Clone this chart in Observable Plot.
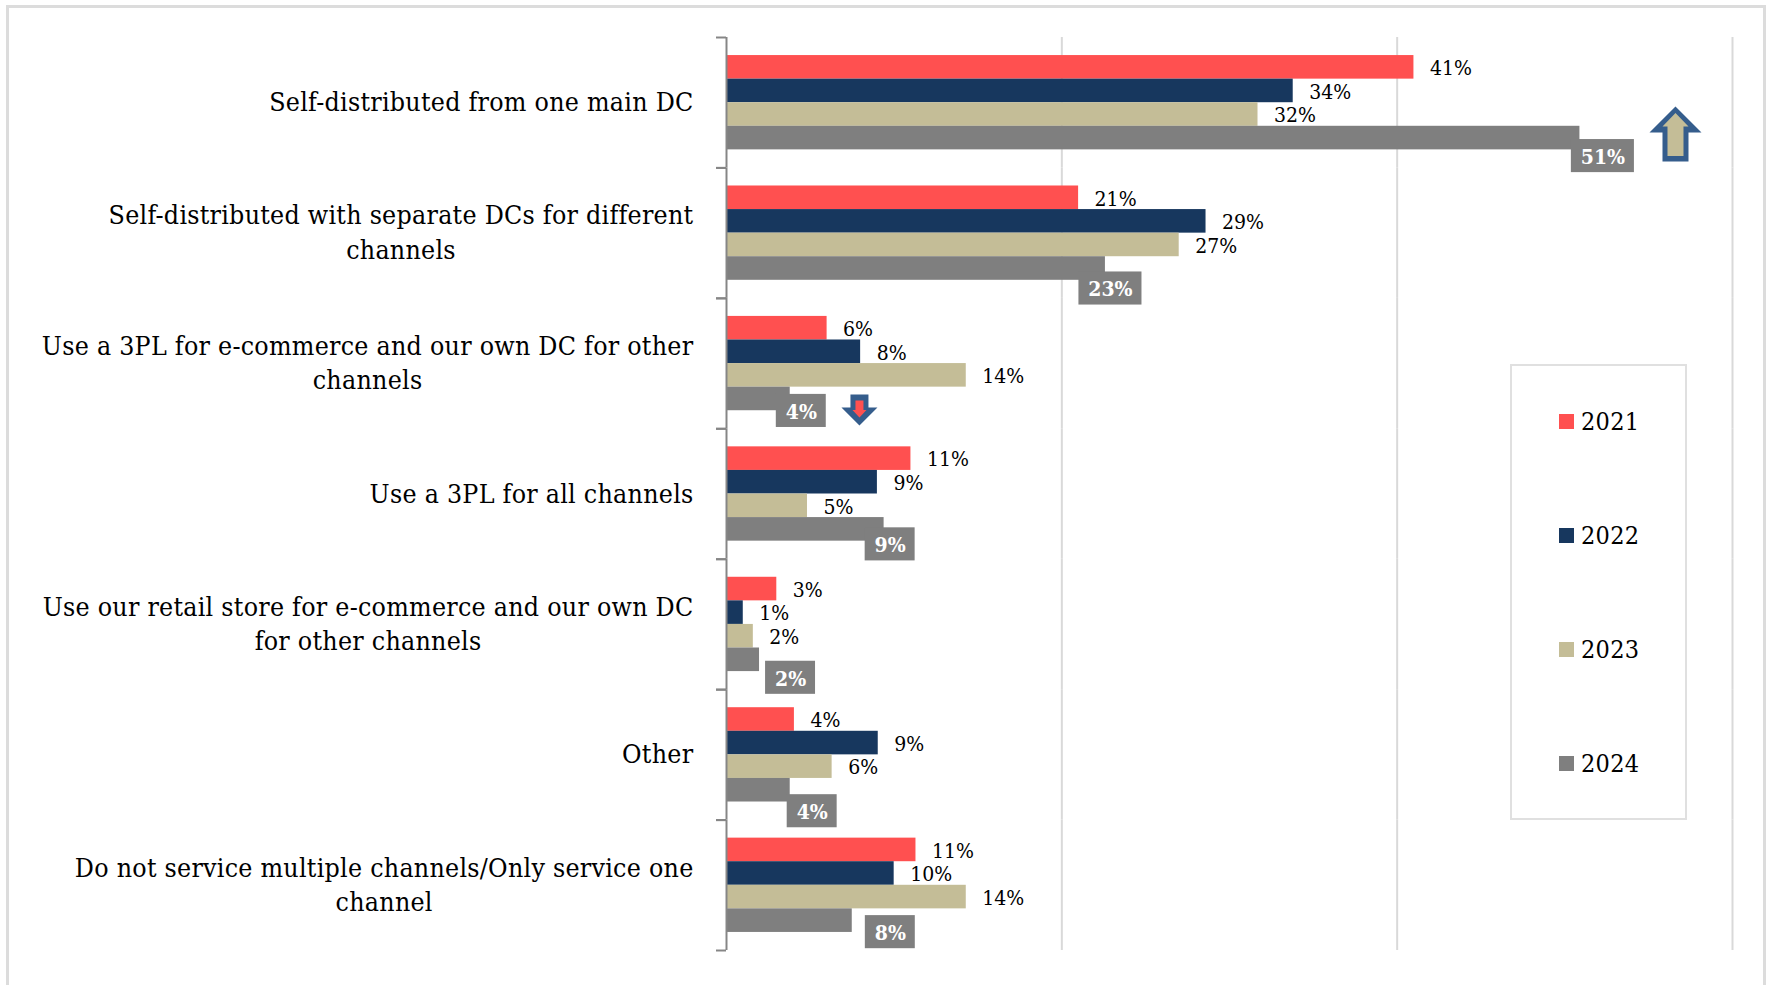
<!DOCTYPE html>
<html>
<head>
<meta charset="utf-8">
<script src="https://cdn.jsdelivr.net/npm/d3@7"></script>
<script src="https://cdn.jsdelivr.net/npm/@observablehq/plot@0.6"></script>
<style>
  html, body { margin: 0; padding: 0; background: #fff; }
  #page { position: relative; width: 1771px; height: 985px; overflow: hidden; font-family: "DejaVu Serif Condensed", "DejaVu Serif", serif; }
  #sheet { position: absolute; left: 6px; top: 5px; width: 1760px; height: 990px; border: 3px solid #dcdcdc; border-bottom: 0; box-sizing: border-box; }
  #chart { position: absolute; left: 0; top: 0; }
  #legend { position: absolute; left: 1510px; top: 364px; width: 177px; height: 456px; box-sizing: border-box; border: 2px solid #e0e0e0; background: #fff; }
  #legend .item { height: 114px; position: relative; top: -2px; display: flex; align-items: center; padding-left: 47px; font-size: 25px; letter-spacing: 0.3px; color: #000; }
  #legend .sw { width: 15px; height: 15px; margin-right: 7px; }
</style>
</head>
<body>
<div id="page"><div id="sheet"></div><div id="chart"></div><div id="legend"></div></div>
<script>
const categories = [
  "Self-distributed from one main DC",
  "Self-distributed with separate DCs for different\nchannels",
  "Use a 3PL for e-commerce and our own DC for other\nchannels",
  "Use a 3PL for all channels",
  "Use our retail store for e-commerce and our own DC\nfor other channels",
  "Other",
  "Do not service multiple channels/Only service one\nchannel"
];
const years = ["2021", "2022", "2023", "2024"];
const colors = ["#FF5050", "#17375E", "#C4BD97", "#7F7F7F"];
const values2021 = [41.0, 21.0, 6.0, 11.0, 3.0, 4.05, 11.3];
const values2022 = [33.8, 28.6, 8.0, 9.0, 1.0, 9.05, 10.0];
const values2023 = [31.7, 27.0, 14.3, 4.83, 1.6, 6.3, 14.3];
const values2024 = [50.9, 22.6, 3.8, 9.4, 1.97, 3.8, 7.5];
const series = [values2021, values2022, values2023, values2024];

const rows = years.flatMap((year, s) =>
  categories.map((category, c) => ({category, year, value: series[s][c]})));
const pct = d => `${Math.round(d.value)}%`;

// The 2024 callouts were placed by hand in the source chart: offsets from the bar end (in % points) and bar centre (px).
const calloutShiftX = [1.37, 0.30, 0.66, 0.36, 1.85, 1.31, 2.27];
const calloutShiftY = [18, 20, 12, 15, 18, 21, 11.5];
const callouts = categories.map((category, c) => {
  const value = values2024[c];
  return {category, year: "2024", value, centre: value + calloutShiftX[c],
          half: Math.round(value) >= 10 ? 1.88 : 1.49, dy: calloutShiftY[c]};
});

// Arrow glyphs, as d3 symbol types (pixel outline around the symbol's anchor)
const polygon = pts => ({draw(ctx) {
  pts.forEach(([x, y], i) => i ? ctx.lineTo(x, y) : ctx.moveTo(x, y));
  ctx.closePath();
}});
const upOuter = polygon([[0,-31.5],[26,-5.5],[13,-5.5],[13,23.5],[-13,23.5],[-13,-5.5],[-26,-5.5]]);
const upInner = polygon([[0,-25],[13,-11.5],[8,-11.5],[8,18],[-8,18],[-8,-11.5],[-13,-11.5]]);
const downOuter = polygon([[-9,-4.5],[9,-4.5],[9,8.5],[18,8.5],[0,26.5],[-18,8.5],[-9,8.5]]);
const downInner = polygon([[-4,1.5],[4,1.5],[4,11],[7,11],[0,18.5],[-7,11],[-4,11]]);
const arrow = (category, x, symbol, fill) => Plot.dot([{category, year: "2024", x}], {
  x: "x", y: "year", fy: "category", symbol, fill, stroke: null, r: 1
});

const plot = Plot.plot({
  width: 1771,
  height: 985,
  marginLeft: 726,
  marginRight: 39,
  marginTop: 37,
  marginBottom: 35,
  style: {background: "transparent", fontFamily: "'DejaVu Serif Condensed', 'DejaVu Serif', serif"},
  x: {domain: [0, 60], axis: null},
  y: {domain: years, paddingInner: 0, paddingOuter: 0.766, round: false, axis: null},
  fy: {domain: categories, padding: 0, round: false, axis: null},
  color: {domain: years, range: colors},
  marks: [
    Plot.ruleX([20, 40, 60], {stroke: "#D9D9D9", strokeWidth: 2}),
    Plot.barX(rows, {x: "value", y: "year", fy: "category", fill: "year"}),
    Plot.ruleX([0], {stroke: "#868686", strokeWidth: 2}),
    Plot.axisFy({anchor: "left", label: null, text: null, tickSize: 10, stroke: "#868686", strokeWidth: 2, dy: 913 / 14}),
    Plot.axisFy({anchor: "left", label: null, text: null, tickSize: 10, stroke: "#868686", strokeWidth: 2, dy: -913 / 14}),
    Plot.axisFy({anchor: "left", label: null, tickSize: 0, tickPadding: 33, className: "cat", dy: -2.5,
      fill: "#000", fontSize: 26.5, lineHeight: 34.5 / 26.5, textAnchor: "middle"}),
    Plot.text(rows.filter(d => d.year !== "2024"), {
      x: "value", y: "year", fy: "category", text: pct, dx: 16, dy: 1, textAnchor: "start",
      fill: "#000", fontSize: 21, className: "val"
    }),
    ...callouts.flatMap(d => [
      Plot.barX([d], {x1: c => c.centre - c.half, x2: c => c.centre + c.half, y: "year", fy: "category",
        fill: "#7F7F7F", dy: d.dy, insetTop: -4.75, insetBottom: -4.75}),
      Plot.text([d], {x: "centre", y: "year", fy: "category", text: pct, dy: d.dy + 1, fill: "#fff",
        fontWeight: "bold", fontSize: 21, className: "val"})
    ]),
    arrow(categories[0], 56.6, upOuter, "#355D8C"),
    arrow(categories[0], 56.6, upInner, "#C4BD97"),
    arrow(categories[2], 7.93, downOuter, "#355D8C"),
    arrow(categories[2], 7.93, downInner, "#FF5050")
  ]
});
document.getElementById("chart").append(plot);

// Category labels: a right-aligned block whose lines are centred on each other.
plot.querySelectorAll(".cat text").forEach(t => {
  t.style.letterSpacing = "0.26px";
  const w = t.getBBox().width;
  const old = t.getAttribute("transform") || "";
  t.setAttribute("transform", `${old} translate(${-w / 2},0)`);
});

const legend = d3.select("#legend");
years.forEach((y, i) => {
  const item = legend.append("div").attr("class", "item");
  item.append("div").attr("class", "sw").style("background", colors[i]);
  item.append("span").text(y);
});
</script>
</body>
</html>
